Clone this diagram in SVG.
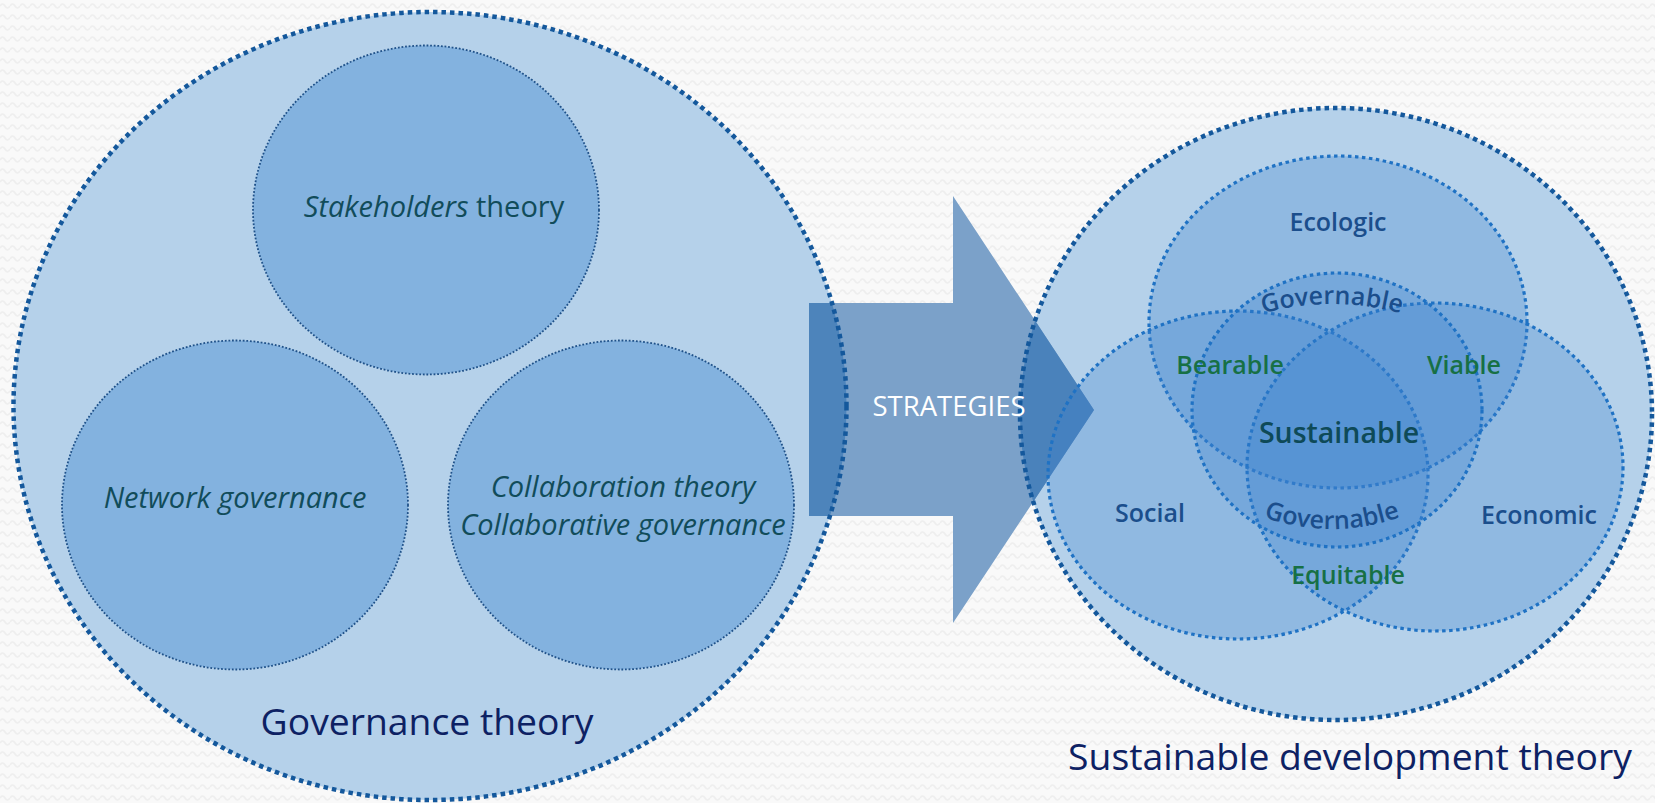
<svg xmlns="http://www.w3.org/2000/svg" width="1655" height="803" viewBox="0 0 1655 803">
<defs>
<pattern id="bgwave" width="10" height="11" patternUnits="userSpaceOnUse">
<rect width="10" height="11" fill="#f9f9f9"/>
<path d="M0 6 Q2.5 2 5 6 T10 6" fill="none" stroke="#eeeeee" stroke-width="1.6"/>
</pattern>
<clipPath id="clipLeft"><ellipse cx="430" cy="406" rx="416.5" ry="394"/></clipPath>
<clipPath id="clipRight"><ellipse cx="1336" cy="414" rx="316" ry="306"/></clipPath>
<path id="arrowShape" d="M809 303 H953 V196 L1094 410 L953 623 V516 H809 Z"/>
<path id="govTop" d="M1242,320.1 A260,260 0 0 1 1422,320.1"/>
<path id="govBot" d="M1242,507.6 A200,200 0 0 0 1422,507.6"/>
</defs>
<style>
.big{fill:#b5d1ea}
.bigStroke{fill:none;stroke:#14589c;stroke-width:4.5;stroke-dasharray:4.5 4}
.inner{fill:#83b2df;stroke:#1f5189;stroke-width:1.8;stroke-dasharray:1.8 1.8}
.venn{fill:#3b82cc;fill-opacity:0.3;stroke:#1f72c4;stroke-width:3.2;stroke-dasharray:3.5 3.5}
.lt{font-family:'Open Sans','Liberation Sans',sans-serif;font-size:29px;fill:#114c5a;text-anchor:middle}
.it{font-style:italic}
.title{font-family:'Open Sans','Liberation Sans',sans-serif;font-size:37.3px;fill:#0d2163;text-anchor:middle}
.vl{font-family:'Open Sans','Liberation Sans',sans-serif;font-size:25px;font-weight:600;text-anchor:middle}
.big-vl{font-size:28.5px}
.blue{fill:#1b4e8c}
.green{fill:#177045}
.teal{fill:#0e4a58}
</style>
<rect width="1655" height="803" fill="url(#bgwave)"/>

<g id="governance-theory">
<ellipse class="big" cx="430" cy="406" rx="416.5" ry="394"/>
</g>
<g id="sustainable-development-theory">
<ellipse class="big" cx="1336" cy="414" rx="316" ry="306"/>
</g>

<g id="strategies-arrow">
<use href="#arrowShape" fill="#7ba1c9"/>
<g clip-path="url(#clipLeft)"><use href="#arrowShape" fill="#4d84bb"/></g>
<g clip-path="url(#clipRight)"><use href="#arrowShape" fill="#4a82bb"/></g>
</g>

<g id="outer-strokes">
<ellipse class="bigStroke" cx="430" cy="406" rx="416.5" ry="394"/>
<ellipse class="bigStroke" cx="1336" cy="414" rx="316" ry="306"/>
</g>

<g id="stakeholders">
<ellipse class="inner" cx="426" cy="210" rx="173" ry="164.5"/>
<text class="lt" x="434" y="217"><tspan class="it">Stakeholders</tspan> theory</text>
</g>
<g id="network-governance">
<ellipse class="inner" cx="235" cy="505" rx="173" ry="164.5"/>
<text class="lt it" x="235" y="508">Network governance</text>
</g>
<g id="collaboration">
<ellipse class="inner" cx="621" cy="505" rx="173" ry="164.5"/>
<text class="lt it" x="623" y="497">Collaboration theory</text>
<text class="lt it" x="623" y="535">Collaborative governance</text>
</g>

<g id="ecologic"><ellipse class="venn" cx="1338" cy="322" rx="189" ry="166"/></g>
<g id="social"><ellipse class="venn" cx="1238" cy="475" rx="190" ry="164"/></g>
<g id="economic"><ellipse class="venn" cx="1435" cy="467" rx="188" ry="164"/></g>
<g id="governable"><ellipse class="venn" cx="1337" cy="410" rx="145" ry="137"/></g>

<g id="labels">
<text class="title" x="427" y="735">Governance theory</text>
<text class="title" x="1350" y="770">Sustainable development theory</text>
<text x="949" y="416" font-family="'Open Sans','Liberation Sans',sans-serif" font-size="27.5" fill="#ffffff" text-anchor="middle">STRATEGIES</text>
<text class="vl blue" x="1338" y="231">Ecologic</text>
<text class="vl blue" x="1150" y="522">Social</text>
<text class="vl blue" x="1539" y="524">Economic</text>
<text class="vl green" x="1230" y="374">Bearable</text>
<text class="vl green" x="1464" y="374">Viable</text>
<text class="vl green" x="1348" y="584">Equitable</text>
<text class="vl teal big-vl" x="1339" y="443">Sustainable</text>
<text class="vl blue"><textPath href="#govTop" startOffset="50%">Governable</textPath></text>
<text class="vl blue"><textPath href="#govBot" startOffset="50%">Governable</textPath></text>
</g>
</svg>
